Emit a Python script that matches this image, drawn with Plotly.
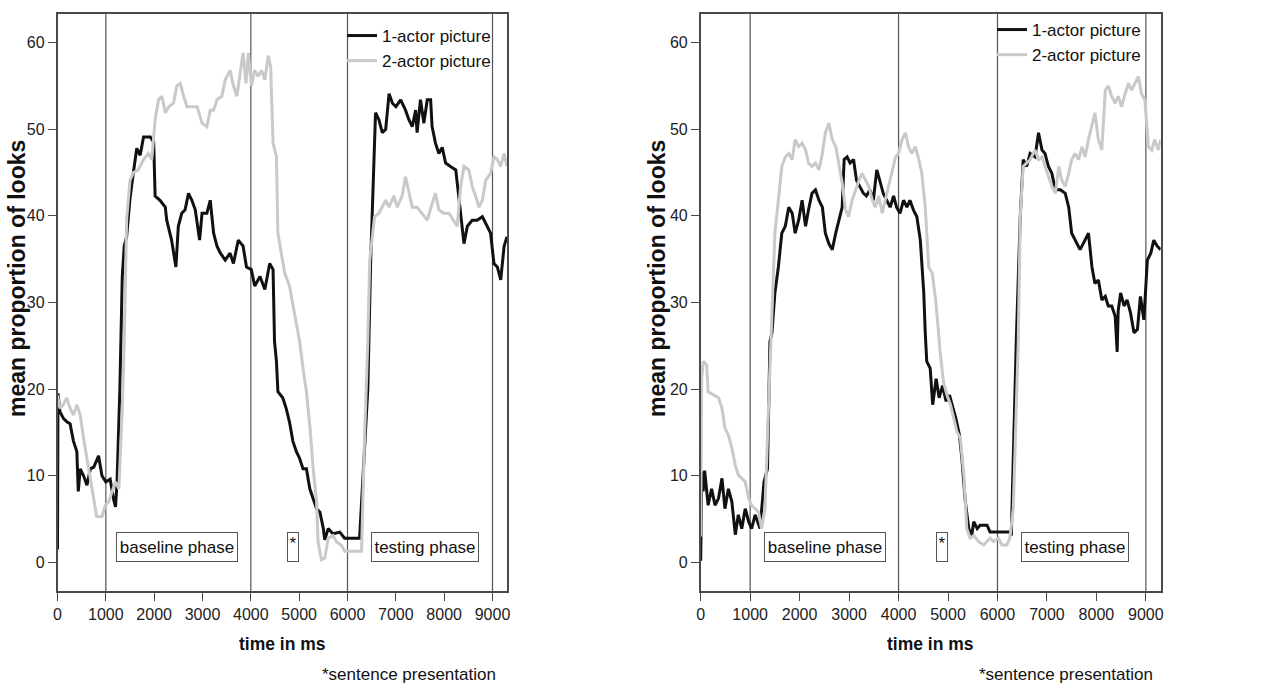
import plotly.graph_objects as go

# ---------------- data ----------------
tick_vals_x = [0, 1000, 2000, 3000, 4000, 5000, 6000, 7000, 8000, 9000]
tick_vals_y = [0, 10, 20, 30, 40, 50, 60]
phase_lines = [1000, 4000, 6000, 9000]
series_names = ["1-actor picture", "2-actor picture"]

# left panel, 1-actor picture
left1_t = [0, 10, 50, 125, 200, 260, 330, 400, 430, 470, 540, 610, 680, 750, 850, 920, 1000, 1090, 1160, 1200, 1230, 1290, 1340, 1380, 1430, 1500, 1570, 1640, 1710, 1780, 1920, 1990, 2020, 2120, 2230, 2260, 2360, 2400, 2450, 2500, 2570, 2640, 2710, 2780, 2850, 2940, 2990, 3090, 3160, 3230, 3300, 3370, 3470, 3570, 3640, 3740, 3840, 3910, 4010, 4080, 4190, 4290, 4390, 4460, 4490, 4530, 4560, 4660, 4730, 4800, 4870, 4940, 5010, 5080, 5150, 5220, 5290, 5360, 5430, 5500, 5530, 5600, 5700, 5840, 5940, 6250, 6420, 6480, 6580, 6650, 6720, 6790, 6860, 6930, 7000, 7100, 7200, 7270, 7340, 7410, 7440, 7510, 7580, 7650, 7720, 7750, 7820, 7890, 7960, 8030, 8130, 8240, 8270, 8340, 8410, 8480, 8580, 8680, 8790, 8890, 8960, 9030, 9100, 9170, 9240, 9300]
left1_v = [1.5, 19.5, 17.4, 16.6, 16.2, 16.0, 14.0, 12.8, 8.2, 10.8, 10.0, 8.9, 10.8, 11.0, 12.3, 10.0, 9.3, 9.6, 7.3, 6.4, 9.0, 20.0, 33.0, 36.5, 37.6, 42.0, 45.0, 47.8, 47.0, 49.1, 49.1, 48.5, 42.3, 41.8, 41.0, 39.5, 37.2, 35.7, 34.1, 38.8, 40.3, 40.7, 42.6, 41.8, 40.7, 37.2, 40.3, 40.3, 41.8, 38.0, 36.5, 35.7, 34.9, 35.7, 34.5, 37.2, 36.5, 34.1, 33.8, 31.9, 33.0, 31.5, 34.5, 33.8, 25.5, 23.2, 19.7, 19.0, 17.8, 16.2, 14.0, 12.8, 12.0, 10.8, 10.8, 8.5, 7.4, 6.2, 5.8, 3.9, 2.6, 3.9, 3.3, 3.5, 2.8, 2.8, 20.0, 34.9, 51.9, 51.1, 49.6, 50.0, 54.1, 53.0, 52.6, 53.4, 52.2, 51.1, 50.3, 52.2, 49.6, 53.4, 50.7, 53.4, 53.4, 50.3, 48.4, 47.2, 47.9, 46.1, 45.7, 45.3, 43.8, 39.9, 36.8, 38.8, 39.5, 39.5, 39.9, 38.8, 38.0, 34.5, 34.1, 32.6, 36.5, 37.6]

# left panel, 2-actor picture
left2_t = [0, 50, 120, 190, 260, 330, 400, 470, 540, 610, 680, 750, 810, 920, 990, 1060, 1130, 1200, 1270, 1340, 1380, 1430, 1500, 1570, 1670, 1780, 1880, 1950, 2020, 2090, 2160, 2230, 2300, 2400, 2470, 2540, 2610, 2680, 2780, 2890, 2990, 3090, 3160, 3230, 3300, 3400, 3470, 3570, 3640, 3710, 3780, 3840, 3900, 3950, 4010, 4080, 4150, 4220, 4290, 4360, 4410, 4460, 4530, 4560, 4630, 4700, 4800, 4870, 4970, 5010, 5080, 5150, 5220, 5290, 5360, 5390, 5460, 5530, 5600, 5700, 5770, 5870, 5940, 6290, 6350, 6420, 6460, 6560, 6650, 6720, 6790, 6860, 6960, 7030, 7130, 7200, 7270, 7340, 7440, 7540, 7650, 7750, 7820, 7890, 7990, 8100, 8200, 8270, 8340, 8410, 8510, 8580, 8650, 8720, 8790, 8860, 8960, 9030, 9100, 9170, 9240, 9300]
left2_v = [19.3, 17.8, 18.2, 19.0, 17.8, 17.0, 18.2, 17.0, 14.3, 12.0, 9.3, 7.0, 5.3, 5.3, 6.6, 7.0, 8.2, 9.3, 8.5, 17.8, 25.5, 39.5, 44.1, 45.0, 45.3, 46.5, 47.2, 46.5, 51.1, 53.4, 53.8, 51.9, 52.6, 53.0, 55.0, 55.3, 53.8, 52.6, 52.6, 52.6, 50.7, 50.3, 52.2, 52.2, 53.4, 53.8, 55.7, 56.8, 55.0, 53.8, 56.5, 58.8, 55.3, 58.8, 55.0, 56.8, 56.1, 56.8, 55.7, 58.5, 57.2, 48.4, 46.8, 38.0, 35.7, 33.4, 31.9, 29.6, 26.5, 25.5, 22.4, 19.7, 15.8, 10.8, 7.0, 2.4, 0.3, 0.5, 2.8, 3.1, 2.4, 2.0, 1.3, 1.3, 13.9, 25.5, 34.9, 39.9, 40.3, 41.0, 41.8, 41.0, 42.3, 41.0, 42.3, 44.5, 42.6, 41.0, 41.0, 40.3, 39.5, 41.4, 42.6, 40.7, 40.3, 40.3, 39.5, 38.8, 43.4, 45.7, 45.3, 43.4, 42.3, 41.0, 41.8, 44.1, 44.9, 46.8, 46.5, 45.7, 47.2, 45.7]

# right panel, 1-actor picture
right1_t = [0, 20, 50, 80, 150, 220, 290, 360, 430, 490, 560, 630, 700, 760, 830, 900, 970, 1030, 1100, 1200, 1280, 1350, 1400, 1440, 1500, 1570, 1640, 1710, 1780, 1850, 1910, 1980, 2050, 2120, 2180, 2250, 2320, 2390, 2460, 2520, 2590, 2660, 2730, 2790, 2860, 2900, 2960, 3020, 3090, 3150, 3220, 3290, 3350, 3420, 3490, 3560, 3620, 3690, 3760, 3830, 3900, 3960, 4030, 4100, 4170, 4230, 4300, 4370, 4440, 4510, 4540, 4570, 4640, 4690, 4760, 4820, 4890, 4960, 5030, 5100, 5160, 5230, 5280, 5350, 5420, 5480, 5520, 5590, 5650, 5790, 5850, 6250, 6280, 6300, 6380, 6460, 6520, 6590, 6660, 6760, 6830, 6900, 6960, 7030, 7100, 7170, 7270, 7370, 7440, 7500, 7570, 7670, 7770, 7840, 7910, 7970, 8040, 8110, 8180, 8240, 8310, 8380, 8420, 8440, 8490, 8560, 8620, 8690, 8760, 8830, 8890, 8960, 9030, 9100, 9160, 9230, 9300]
right1_v = [0.2, 10.5, 8.2, 10.6, 6.6, 8.5, 6.6, 7.4, 9.7, 6.2, 8.5, 7.0, 3.2, 5.5, 3.9, 6.2, 4.7, 3.9, 5.5, 3.9, 9.3, 10.8, 25.5, 26.5, 31.1, 34.1, 38.0, 38.8, 41.0, 40.3, 38.0, 39.5, 41.8, 38.8, 40.7, 42.6, 43.0, 41.8, 41.0, 38.0, 36.8, 36.1, 38.0, 39.5, 41.0, 46.5, 46.8, 46.1, 46.5, 44.1, 43.4, 42.6, 42.3, 43.0, 41.8, 45.3, 44.1, 42.6, 41.8, 41.0, 42.3, 41.0, 40.3, 41.8, 41.0, 41.8, 40.7, 39.9, 37.2, 31.1, 26.5, 23.2, 22.4, 18.2, 21.2, 19.0, 20.4, 18.6, 19.3, 17.8, 16.6, 14.7, 12.0, 7.0, 3.9, 3.1, 4.7, 3.9, 4.3, 4.3, 3.5, 3.5, 3.1, 7.7, 25.5, 39.9, 46.5, 45.7, 47.2, 46.8, 49.6, 47.6, 47.2, 45.7, 44.9, 43.0, 43.0, 42.6, 41.0, 38.0, 37.2, 36.1, 37.2, 38.0, 34.1, 32.2, 32.6, 30.3, 30.7, 29.6, 29.6, 28.4, 24.3, 29.0, 31.1, 29.6, 30.3, 28.8, 26.5, 26.9, 30.7, 28.0, 34.9, 35.7, 37.2, 36.5, 36.1]

# right panel, 2-actor picture
right2_t = [0, 20, 50, 120, 150, 260, 360, 430, 490, 560, 630, 700, 760, 830, 900, 970, 1030, 1100, 1170, 1230, 1300, 1370, 1420, 1440, 1500, 1570, 1640, 1710, 1780, 1850, 1910, 1980, 2050, 2120, 2180, 2250, 2320, 2390, 2460, 2520, 2590, 2660, 2730, 2790, 2860, 2930, 2990, 3060, 3130, 3200, 3260, 3330, 3400, 3470, 3530, 3600, 3670, 3730, 3800, 3870, 3940, 4000, 4070, 4140, 4200, 4270, 4340, 4410, 4470, 4540, 4610, 4680, 4750, 4810, 4840, 4910, 4980, 5050, 5110, 5180, 5250, 5320, 5380, 5450, 5520, 5620, 5720, 5790, 5850, 5920, 6020, 6090, 6190, 6250, 6320, 6380, 6420, 6460, 6520, 6590, 6660, 6760, 6830, 6900, 6960, 7030, 7100, 7170, 7240, 7300, 7370, 7440, 7500, 7570, 7640, 7710, 7770, 7840, 7910, 7970, 8040, 8110, 8180, 8240, 8310, 8380, 8440, 8510, 8580, 8650, 8710, 8780, 8850, 8910, 8980, 9050, 9120, 9180, 9250, 9300]
right2_v = [3.0, 21.2, 23.2, 22.8, 19.7, 19.3, 19.0, 17.8, 15.5, 14.7, 13.2, 11.2, 10.1, 9.7, 9.3, 7.4, 6.6, 6.2, 5.8, 3.9, 6.2, 17.8, 25.5, 30.3, 38.0, 41.8, 45.7, 46.8, 47.2, 46.5, 48.8, 48.0, 48.4, 47.6, 46.1, 45.7, 46.1, 45.3, 47.2, 49.6, 50.7, 48.8, 48.0, 46.1, 43.8, 40.7, 39.9, 41.8, 43.0, 44.1, 44.9, 44.1, 43.4, 41.8, 41.0, 42.3, 40.3, 41.8, 43.4, 44.9, 46.8, 47.2, 48.8, 49.6, 48.0, 47.2, 48.0, 46.5, 44.9, 41.0, 34.1, 33.4, 30.3, 26.5, 24.3, 20.8, 19.3, 18.2, 16.6, 15.1, 14.3, 10.1, 3.9, 2.8, 3.1, 2.4, 2.0, 2.4, 2.8, 2.4, 2.8, 2.0, 2.0, 2.8, 6.2, 17.8, 25.5, 39.9, 45.7, 46.1, 46.5, 47.6, 46.5, 46.8, 45.7, 44.5, 43.4, 42.6, 45.7, 44.1, 43.4, 44.9, 46.5, 47.2, 46.5, 48.0, 46.8, 48.8, 50.3, 51.9, 48.8, 47.6, 54.5, 55.0, 53.8, 53.0, 53.8, 52.6, 54.1, 55.3, 54.5, 55.3, 56.1, 54.1, 53.4, 48.0, 47.6, 48.8, 47.6, 48.8]

# phase boxes: (label, centre time)
left_boxes = [("baseline phase", 2475), ("*", 4870), ("testing phase", 7595)]
right_boxes = [("baseline phase", 2522), ("*", 4877), ("testing phase", 7563)]

# ---------------- styling ----------------
W, H = 1266, 684
FONT = "Liberation Sans, Arial, sans-serif"
AXC = "#4a4a4a"
C1, C2 = "#111111", "#c9c9c9"
BOX_W = {"baseline phase": 116, "testing phase": 102, "*": 8}

fig = go.Figure()

panels = [
    dict(xa="x", ya="y", xdom=(57.5, 507.0), legend="legend",
         d1=(left1_t, left1_v), d2=(left2_t, left2_v), boxes=left_boxes,
         ytitle_x=17, foot_right=498),
    dict(xa="x2", ya="y2", xdom=(700.7, 1160.7), legend="legend2",
         d1=(right1_t, right1_v), d2=(right2_t, right2_v), boxes=right_boxes,
         ytitle_x=657, foot_right=1155),
]

ydom = (1 - 591 / H, 1 - 14 / H)
YR = [-3.3, 63.3]
XR = [0, 9300]

shapes, annotations = [], []
for i, p in enumerate(panels):
    fig.add_trace(go.Scatter(x=p["d1"][0], y=p["d1"][1], mode="lines", name=series_names[0],
                             line=dict(color=C1, width=3), xaxis=p["xa"], yaxis=p["ya"],
                             legend=p["legend"]))
    fig.add_trace(go.Scatter(x=p["d2"][0], y=p["d2"][1], mode="lines", name=series_names[1],
                             line=dict(color=C2, width=3), xaxis=p["xa"], yaxis=p["ya"],
                             legend=p["legend"]))
    ax_common = dict(showline=True, linecolor=AXC, linewidth=1.5, mirror=True,
                     showgrid=False, zeroline=False, ticks="outside", ticklen=8,
                     tickwidth=1.3, tickcolor=AXC, automargin=False,
                     tickfont=dict(family=FONT, size=16, color="#222"))
    xkey = "xaxis" if i == 0 else "xaxis2"
    ykey = "yaxis" if i == 0 else "yaxis2"
    fig.update_layout(**{
        xkey: dict(domain=[p["xdom"][0] / W, p["xdom"][1] / W], range=XR,
                   tickvals=tick_vals_x, anchor=p["ya"], **ax_common),
        ykey: dict(domain=list(ydom), range=YR, tickvals=tick_vals_y,
                   anchor=p["xa"], **ax_common),
    })
    for t in phase_lines:
        shapes.append(dict(type="line", xref=p["xa"], yref="paper", x0=t, x1=t,
                           y0=ydom[0], y1=ydom[1], line=dict(color="#555", width=1.2),
                           layer="below"))
    for label, xc in p["boxes"]:
        star = label == "*"
        annotations.append(dict(
            x=xc, y=0, xref=p["xa"], yref=p["ya"], text=label, showarrow=False,
            xanchor="center", yanchor="bottom",
            font=dict(family=FONT, size=17, color="#111"),
            bordercolor="#555", borderwidth=1, borderpad=1 if star else 2,
            bgcolor="white", width=BOX_W[label], height=26 if star else 24,
            valign="top" if star else "middle"))
    cx = (p["xdom"][0] + p["xdom"][1]) / 2
    annotations.append(dict(x=cx / W, y=1 - 644 / H, xref="paper", yref="paper",
                            text="<b>time in ms</b>", showarrow=False,
                            font=dict(family=FONT, size=17.5, color="#111"),
                            xanchor="center", yanchor="middle"))
    annotations.append(dict(x=p["ytitle_x"] / W, y=1 - 279 / H, xref="paper", yref="paper",
                            text="<b>mean proportion of looks</b>", showarrow=False,
                            textangle=-90,
                            font=dict(family=FONT, size=23, color="#111"),
                            xanchor="center", yanchor="middle"))
    annotations.append(dict(x=p["foot_right"] / W, y=1 - 674 / H, xref="paper", yref="paper",
                            text="*sentence presentation", showarrow=False,
                            font=dict(family=FONT, size=17, color="#111"),
                            xanchor="right", yanchor="middle"))

legend_common = dict(bgcolor="rgba(0,0,0,0)", borderwidth=0, xanchor="right",
                     yanchor="top", itemwidth=30, tracegroupgap=0,
                     font=dict(family=FONT, size=17, color="#111"))
fig.update_layout(
    width=W, height=H, margin=dict(l=0, r=0, t=0, b=0),
    paper_bgcolor="white", plot_bgcolor="white", showlegend=True,
    legend=dict(x=496 / W, y=1 - 18 / H, **legend_common),
    legend2=dict(x=1146 / W, y=1 - 12 / H, **legend_common),
    shapes=shapes, annotations=annotations,
)

fig.write_html("out.html")
